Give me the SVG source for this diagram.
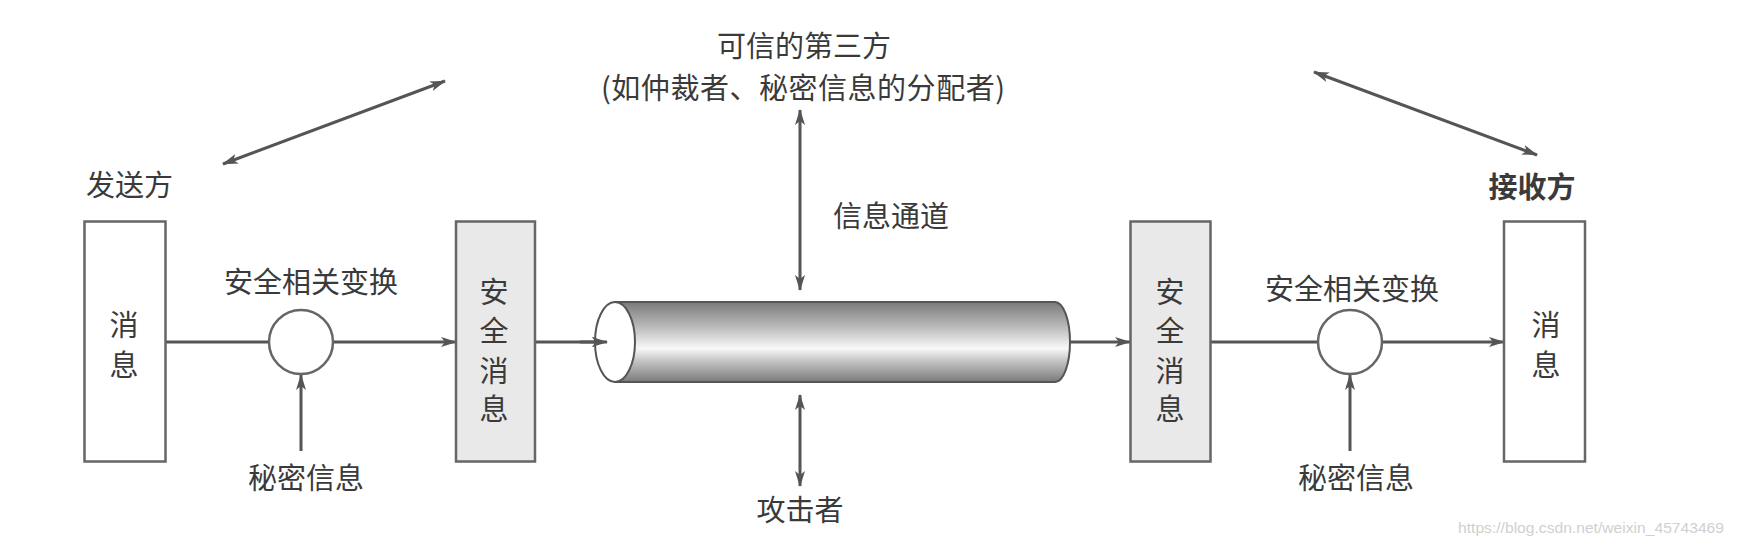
<svg xmlns="http://www.w3.org/2000/svg" width="1740" height="546" viewBox="0 0 1740 546">
<style>
.t{font-family:"Noto Sans CJK SC","Noto Sans CJK JP",sans-serif;font-size:29px;fill:#3a3a3a}
.m{text-anchor:middle}
.box{fill:#fff;stroke:#666;stroke-width:2.5}
.sbox{fill:#e9e9e9;stroke:#666;stroke-width:2.5}
.ln{stroke:#555;stroke-width:3;fill:none}
.ar{marker-end:url(#ah)}
.ar2{marker-end:url(#ah);marker-start:url(#ah)}
</style>
<defs>
<marker id="ah" viewBox="0 0 16 10" refX="15" refY="5" markerWidth="16" markerHeight="10" markerUnits="userSpaceOnUse" orient="auto-start-reverse">
<path d="M0,0 L16,5 L0,10 L4,5 z" fill="#555"/>
</marker>
<linearGradient id="cyl" x1="0" y1="0" x2="0" y2="1">
<stop offset="0" stop-color="#7a7a7a"/>
<stop offset="0.3" stop-color="#b8b8b8"/>
<stop offset="0.58" stop-color="#f8f8f8"/>
<stop offset="0.75" stop-color="#c0c0c0"/>
<stop offset="1" stop-color="#7a7a7a"/>
</linearGradient>
</defs>
<rect width="1740" height="546" fill="#fff"/>

<g id="connectors">
<line class="ln" x1="165" y1="342" x2="269" y2="342"/>
<line class="ln ar" x1="333" y1="342" x2="456" y2="342"/>
<line class="ln ar" x1="535" y1="342" x2="607" y2="342"/>
<line class="ln ar" x1="1070" y1="342" x2="1130" y2="342"/>
<line class="ln" x1="1211" y1="342" x2="1318" y2="342"/>
<line class="ln ar" x1="1382" y1="342" x2="1504" y2="342"/>
<line class="ln ar" x1="301" y1="451" x2="301" y2="375"/>
<line class="ln ar" x1="1350" y1="451" x2="1350" y2="375"/>
<line class="ln ar2" x1="800" y1="110" x2="800" y2="290"/>
<line class="ln ar2" x1="800" y1="395" x2="800" y2="486"/>
<line class="ln ar2" x1="223" y1="164" x2="445" y2="81"/>
<line class="ln ar2" x1="1314" y1="72" x2="1537" y2="155"/>
</g>

<g id="sender-label"><text class="t" x="86" y="196">发送方</text></g>
<g id="receiver-label"><text class="t m" x="1532" y="198" font-weight="bold">接收方</text></g>

<g id="msg-left">
<rect class="box" x="84.5" y="221.5" width="81" height="240"/>
<text class="t m" x="124" y="336">消</text>
<text class="t m" x="124" y="376">息</text>
</g>

<g id="transform-left">
<circle cx="301" cy="342" r="32" fill="#fff" stroke="#666" stroke-width="2.5"/>
<text class="t m" x="311" y="293">安全相关变换</text>
</g>
<g id="secret-left"><text class="t m" x="306" y="489">秘密信息</text></g>

<g id="secure-left">
<rect class="sbox" x="456" y="221.5" width="79" height="240"/>
<text class="t m" x="494" y="303">安</text>
<text class="t m" x="494" y="342">全</text>
<text class="t m" x="494" y="382">消</text>
<text class="t m" x="494" y="420">息</text>
</g>

<g id="channel">
<path d="M615,302 L1055,302 A15,40 0 0 1 1055,382 L615,382 Z" fill="url(#cyl)" stroke="#555" stroke-width="2"/>
<ellipse cx="615" cy="342" rx="20" ry="40" fill="#fff" stroke="#555" stroke-width="2"/>
<line class="ln ar" x1="580" y1="342" x2="607" y2="342"/>
<text class="t" x="833" y="227">信息通道</text>
</g>

<g id="third-party">
<text class="t m" x="804" y="57">可信的第三方</text>
<text class="t m" x="803" y="99" textLength="404" lengthAdjust="spacing">(如仲裁者、秘密信息的分配者)</text>
</g>

<g id="attacker"><text class="t m" x="800" y="521">攻击者</text></g>

<g id="secure-right">
<rect class="sbox" x="1130.5" y="221.5" width="80" height="240"/>
<text class="t m" x="1170" y="303">安</text>
<text class="t m" x="1170" y="342">全</text>
<text class="t m" x="1170" y="382">消</text>
<text class="t m" x="1170" y="420">息</text>
</g>

<g id="transform-right">
<circle cx="1350" cy="342" r="32" fill="#fff" stroke="#666" stroke-width="2.5"/>
<text class="t m" x="1352" y="300">安全相关变换</text>
</g>
<g id="secret-right"><text class="t m" x="1356" y="489">秘密信息</text></g>

<g id="msg-right">
<rect class="box" x="1504" y="221.5" width="81" height="240"/>
<text class="t m" x="1546" y="336">消</text>
<text class="t m" x="1546" y="376">息</text>
</g>

<g id="watermark"><text x="1458" y="533" font-family="Liberation Sans, Arial, sans-serif" font-size="15" fill="#d0d0d0" textLength="266" lengthAdjust="spacingAndGlyphs">https://blog.csdn.net/weixin_45743469</text></g>
</svg>
